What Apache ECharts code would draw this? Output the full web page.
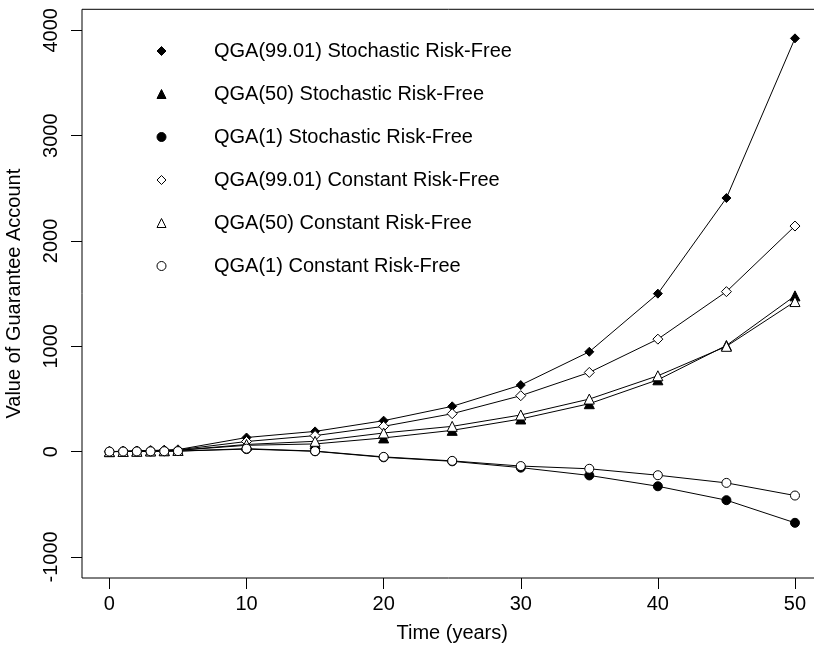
<!DOCTYPE html>
<html>
<head>
<meta charset="utf-8">
<script src="https://cdn.jsdelivr.net/npm/echarts@6/dist/echarts.min.js"></script>
<style>
html,body{margin:0;padding:0;background:#fff;}
#chart{width:814px;height:645px;}
</style>
</head>
<body>
<div id="chart"></div>
<script>
var years = [0, 1, 2, 3, 4, 5, 10, 15, 20, 25, 30, 35, 40, 45, 50];
var stoch99 = [0, 3, 6, 10, 14, 19, 134, 192, 294, 430, 632, 948, 1500, 2408, 3924];
var stoch50 = [0, 2, 4, 7, 9, 12, 60, 73, 130, 202, 310, 455, 682, 1008, 1479];
var stoch1  = [0, 1, 2, 3, 4, 5, 24, 3, -54, -92, -152, -226, -329, -461, -676];
var const99 = [0, 3, 6, 9, 13, 17, 96, 152, 240, 360, 531, 752, 1068, 1519, 2142];
var const50 = [0, 2, 4, 7, 9, 12, 68, 98, 177, 240, 348, 499, 720, 1000, 1425];
var const1  = [0, 1, 2, 3, 4, 5, 28, 5, -50, -88, -137, -163, -224, -297, -417];
var xTicks = [0, 10, 20, 30, 40, 50];
var yTicks = [-1000, 0, 1000, 2000, 3000, 4000];
var names = [
  'QGA(99.01) Stochastic Risk-Free',
  'QGA(50) Stochastic Risk-Free',
  'QGA(1) Stochastic Risk-Free',
  'QGA(99.01) Constant Risk-Free',
  'QGA(50) Constant Risk-Free',
  'QGA(1) Constant Risk-Free'
];

var FONT = "'Liberation Sans', Arial, Helvetica, sans-serif";

function pairs(vals) {
  return years.map(function (y, i) { return [y, vals[i]]; });
}

var defs = [
  { vals: stoch99, symbol: 'diamond', size: 9, filled: true },
  { vals: stoch50, symbol: 'triangle', size: 10, filled: true },
  { vals: stoch1, symbol: 'circle', size: 9, filled: true },
  { vals: const99, symbol: 'diamond', size: 10, filled: false },
  { vals: const50, symbol: 'triangle', size: 10, filled: false },
  { vals: const1, symbol: 'circle', size: 9, filled: false }
];

var series = [];
// connecting lines
defs.forEach(function (d, i) {
  series.push({
    name: 'line ' + i, type: 'line', data: pairs(d.vals),
    showSymbol: false, symbol: 'none', z: 2, silent: true, animation: false,
    lineStyle: { color: '#000', width: 1 }
  });
});
// point markers
defs.forEach(function (d, i) {
  series.push({
    name: names[i], type: 'scatter', data: pairs(d.vals),
    symbol: d.symbol, symbolSize: d.size, z: 4, animation: false,
    itemStyle: { color: d.filled ? '#000' : '#fff', borderColor: '#000', borderWidth: 1, opacity: 1 },
    emphasis: { disabled: true }
  });
});

function plain(v) { return String(v); }

var chart = echarts.init(document.getElementById('chart'), null, { renderer: 'canvas' });
chart.setOption({
  animation: false,
  backgroundColor: '#fff',
  textStyle: { fontFamily: FONT },
  grid: {
    left: 82, right: -8.4, top: 9.3, bottom: 67,
    containLabel: false,
    outerBoundsMode: 'none',
    show: true, borderColor: '#000', borderWidth: 1, backgroundColor: 'transparent'
  },
  legend: {
    orient: 'vertical',
    left: 151.5, top: 36,
    itemWidth: 9, itemHeight: 9,
    itemGap: 23,
    selectedMode: false,
    textStyle: { fontFamily: FONT, fontSize: 20, color: '#000', lineHeight: 20, padding: [0, 0, 0, 43] },
    itemStyle: { borderWidth: 1 },
    data: names
  },
  xAxis: {
    type: 'value',
    min: -2, max: 52,
    name: 'Time (years)',
    nameLocation: 'middle',
    nameGap: 45,
    nameTextStyle: { fontFamily: FONT, fontSize: 20, color: '#000' },
    axisLine: { show: false, onZero: false },
    splitLine: { show: false },
    axisTick: { show: true, length: 11, lineStyle: { color: '#000', width: 1 }, customValues: xTicks },
    axisLabel: { fontFamily: FONT, fontSize: 20, color: '#000', margin: 16, customValues: xTicks, formatter: plain }
  },
  yAxis: {
    type: 'value',
    min: -1200, max: 4200,
    name: 'Value of Guarantee Account',
    nameLocation: 'middle',
    nameGap: 58,
    nameTextStyle: { fontFamily: FONT, fontSize: 20, color: '#000' },
    axisLine: { show: false, onZero: false },
    splitLine: { show: false },
    axisTick: { show: true, length: 11, lineStyle: { color: '#000', width: 1 }, customValues: yTicks },
    axisLabel: { fontFamily: FONT, fontSize: 20, color: '#000', margin: 21, rotate: 90, customValues: yTicks, formatter: plain }
  },
  series: series
});
</script>
</body>
</html>
